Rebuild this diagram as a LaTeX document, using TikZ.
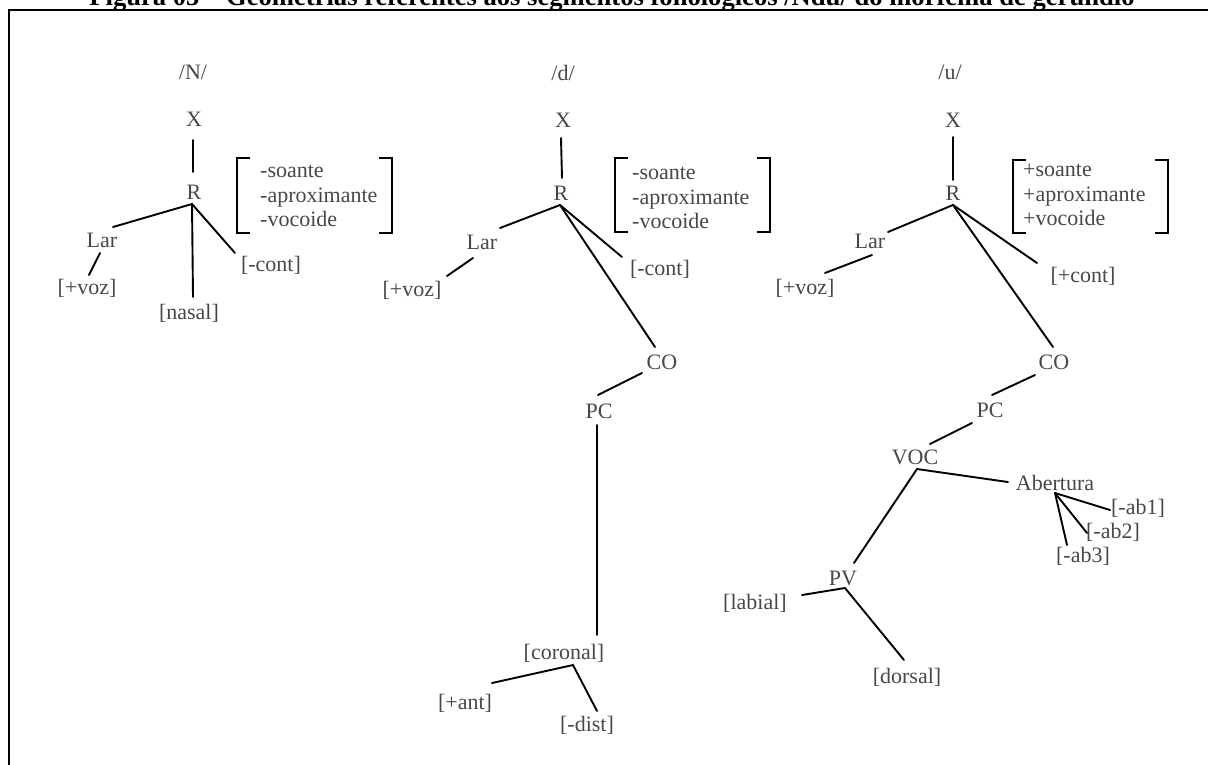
\documentclass[tikz,border=0pt]{standalone}
\usepackage{fontspec}
\setmainfont{Liberation Serif}
\begin{document}
\begin{tikzpicture}[x=1pt,y=-1pt,
  lbl/.style={inner sep=0pt,text=black!72,font=\fontsize{22}{25}\selectfont},
  feat/.style={inner sep=0pt,anchor=west,align=left,text=black!72,font=\fontsize{22}{24.5}\selectfont},
  edge/.style={line width=1.9pt,black,line cap=round},
  brk/.style={line width=2pt,black}]
\useasboundingbox (0,0) rectangle (1208,764);
% title (cut by the page top) and frame
\node[anchor=base,inner sep=0pt,font=\bfseries\fontsize{26.6}{30}\selectfont] (title) at (612,5)
  {Figura 05 -- Geometrias referentes aos segmentos fonológicos /Ndu/ do morfema de gerúndio};
\draw[line width=2pt] (1230,10) -- (9,10) -- (9,790);

% ---------- /N/ ----------
\node[lbl] (N1t) at (193,72) {/N/};
\node[lbl] (N1X) at (194,119) {X};
\node[lbl] (N1R) at (194,192) {R};
\coordinate (N1Rj) at (192,204);
\node[lbl] (N1Lar) at (102,240) {Lar};
\node[lbl] (N1voz) at (87,288) {[+voz]};
\node[lbl] (N1nas) at (189,313) {[nasal]};
\node[lbl] (N1cont) at (271,265) {[-cont]};
\node[feat] (N1f) at (260,196) {-soante\\-aproximante\\-vocoide};
\draw[brk] (250,158) -| (237,233) -- (250,233);
\draw[brk] (379,158) -| (392,233) -- (379,233);
\draw[edge] ([shift={(-1,21)}]N1X.center) -- ([shift={(-1,-20)}]N1R.center);
\draw[edge] (N1Rj) -- ([shift={(11,-13)}]N1Lar.center);
\draw[edge] ([shift={(-2,13)}]N1Lar.center) -- ([shift={(2,-13)}]N1voz.center);
\draw[edge] (N1Rj) -- ([shift={(4,-16)}]N1nas.center);
\draw[edge] (N1Rj) -- ([shift={(-36,-12)}]N1cont.center);

% ---------- /d/ ----------
\node[lbl] (N2t) at (563,73) {/d/};
\node[lbl] (N2X) at (563,120) {X};
\node[lbl] (N2R) at (561,193) {R};
\coordinate (N2Rj) at (560,205);
\node[lbl] (N2Lar) at (482,242) {Lar};
\node[lbl] (N2voz) at (412,290) {[+voz]};
\node[lbl] (N2cont) at (660,269) {[-cont]};
\node[lbl] (N2CO) at (662,362) {CO};
\node[lbl] (N2PC) at (599,411) {PC};
\node[lbl] (N2cor) at (564,653) {[coronal]};
\coordinate (N2corj) at (573,665);
\node[lbl] (N2ant) at (465,703) {[+ant]};
\node[lbl] (N2dist) at (587,725) {[-dist]};
\node[feat] (N2f) at (632,198) {-soante\\-aproximante\\-vocoide};
\draw[brk] (628,158) -| (615,232) -- (628,232);
\draw[brk] (757,158) -| (770,232) -- (757,232);
\draw[edge] ([shift={(-2,18)}]N2X.center) -- ([shift={(1,-15)}]N2R.center);
\draw[edge] (N2Rj) -- ([shift={(18,-14)}]N2Lar.center);
\draw[edge] ([shift={(-9,16)}]N2Lar.center) -- ([shift={(35,-14)}]N2voz.center);
\draw[edge] (N2Rj) -- ([shift={(-38,-12)}]N2cont.center);
\draw[edge] (N2Rj) -- ([shift={(-7,-15)}]N2CO.center);
\draw[edge] ([shift={(-20,11)}]N2CO.center) -- ([shift={(-1,-16)}]N2PC.center);
\draw[edge] ([shift={(-2,14)}]N2PC.center) -- ([shift={(33,-18)}]N2cor.center);
\draw[edge] (N2corj) -- ([shift={(27,-20)}]N2ant.center);
\draw[edge] (N2corj) -- ([shift={(10,-14)}]N2dist.center);

% ---------- /u/ ----------
\node[lbl] (N3t) at (950,72) {/u/};
\node[lbl] (N3X) at (953,120) {X};
\node[lbl] (N3R) at (953,193) {R};
\coordinate (N3Rj) at (953,205);
\node[lbl] (N3Lar) at (870,241) {Lar};
\node[lbl] (N3voz) at (805,288) {[+voz]};
\node[lbl] (N3cont) at (1083,276) {[+cont]};
\node[lbl] (N3CO) at (1054,362) {CO};
\node[lbl] (N3PC) at (990,410) {PC};
\node[lbl] (N3VOC) at (915,457) {VOC};
\coordinate (N3VOCj) at (917,469);
\node[lbl] (N3Ab) at (1055,483) {Abertura};
\coordinate (N3Abj) at (1055,493);
\node[lbl] (N3ab1) at (1138,508) {[-ab1]};
\node[lbl] (N3ab2) at (1113,532) {[-ab2]};
\node[lbl] (N3ab3) at (1083,556) {[-ab3]};
\node[lbl] (N3PV) at (843,578) {PV};
\coordinate (N3PVj) at (845,588);
\node[lbl] (N3lab) at (755,603) {[labial]};
\node[lbl] (N3dor) at (907,677) {[dorsal]};
\node[feat] (N3f) at (1023,195) {+soante\\+aproximante\\+vocoide};
\draw[brk] (1026,160) -| (1013,233) -- (1026,233);
\draw[brk] (1155,160) -| (1168,233) -- (1155,233);
\draw[edge] ([shift={(0,17)}]N3X.center) -- ([shift={(0,-13)}]N3R.center);
\draw[edge] (N3Rj) -- ([shift={(18,-9)}]N3Lar.center);
\draw[edge] ([shift={(2,14)}]N3Lar.center) -- ([shift={(20,-15)}]N3voz.center);
\draw[edge] (N3Rj) -- ([shift={(-46,-13)}]N3cont.center);
\draw[edge] (N3Rj) -- ([shift={(-1,-15)}]N3CO.center);
\draw[edge] ([shift={(-19,13)}]N3CO.center) -- ([shift={(2,-15)}]N3PC.center);
\draw[edge] ([shift={(-18,13)}]N3PC.center) -- ([shift={(15,-13)}]N3VOC.center);
\draw[edge] (N3VOCj) -- ([shift={(-47,-1)}]N3Ab.center);
\draw[edge] (N3Abj) -- ([shift={(-28,2)}]N3ab1.center);
\draw[edge] (N3Abj) -- ([shift={(-26,1)}]N3ab2.center);
\draw[edge] (N3Abj) -- ([shift={(-16,-11)}]N3ab3.center);
\draw[edge] (N3VOCj) -- ([shift={(11,-15)}]N3PV.center);
\draw[edge] (N3PVj) -- ([shift={(47,-8)}]N3lab.center);
\draw[edge] (N3PVj) -- ([shift={(-3,-17)}]N3dor.center);
\end{tikzpicture}
\end{document}
